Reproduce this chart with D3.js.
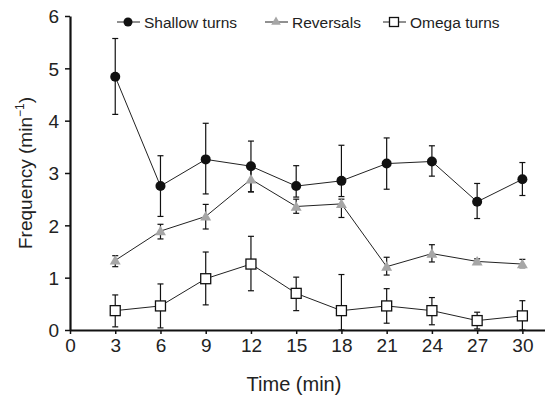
<!DOCTYPE html>
<html>
<head>
<meta charset="utf-8">
<script src="https://cdn.jsdelivr.net/npm/d3@7"></script>
<style>
  body { margin: 0; background: #fff; }
  svg { font-family: "Liberation Sans", Arial, sans-serif; }
</style>
</head>
<body>
<div id="chart"></div>
<script>
// time points (min)
const times = [3, 6, 9, 12, 15, 18, 21, 24, 27, 30];

// shallow turns: mean, upper and lower bar ends
const shallow = [4.84, 2.75, 3.26, 3.13, 2.75, 2.85, 3.18, 3.22, 2.45, 2.88];
const shallowHi = [5.57, 3.33, 3.95, 3.61, 3.14, 3.53, 3.67, 3.52, 2.80, 3.20];
const shallowLo = [4.12, 2.17, 2.60, 2.64, 2.54, 2.55, 2.69, 2.94, 2.13, 2.57];

// reversals
const reversals = [1.33, 1.89, 2.17, 2.88, 2.36, 2.41, 1.21, 1.46, 1.31, 1.26];
const reversalsHi = [1.42, 2.02, 2.40, 3.10, 2.50, 2.50, 1.39, 1.63, 1.36, 1.35];
const reversalsLo = [1.21, 1.74, 1.93, 2.64, 2.23, 2.15, 1.05, 1.30, 1.26, 1.19];

// omega turns
const omega = [0.37, 0.46, 0.98, 1.26, 0.70, 0.37, 0.46, 0.37, 0.18, 0.27];
const omegaHi = [0.67, 0.88, 1.49, 1.79, 1.01, 1.06, 0.79, 0.62, 0.34, 0.56];
const omegaLo = [0.06, 0.04, 0.48, 0.75, 0.37, 0.00, 0.13, 0.10, 0.02, 0.00];

const xTicks = [0, 3, 6, 9, 12, 15, 18, 21, 24, 27, 30];
const yTicks = [0, 1, 2, 3, 4, 5, 6];

const width = 545, height = 396;
const margin = {top: 16, right: 0, bottom: 66, left: 70};

const svg = d3.select("#chart").append("svg")
    .attr("width", width)
    .attr("height", height);

const x = d3.scaleLinear()
    .domain([0, 31.5])
    .range([margin.left, width - margin.right]);

const y = d3.scaleLinear()
    .domain([0, 6])
    .range([height - margin.bottom, margin.top]);

const series = [
    {name: "Shallow turns", mean: shallow, hi: shallowHi, lo: shallowLo, shape: "circle"},
    {name: "Reversals", mean: reversals, hi: reversalsHi, lo: reversalsLo, shape: "triangle"},
    {name: "Omega turns", mean: omega, hi: omegaHi, lo: omegaLo, shape: "square"}
];

function drawMarker(g, shape, cx, cy) {
    if (shape === "circle") {
        g.append("circle").attr("cx", cx).attr("cy", cy).attr("r", 5)
            .attr("fill", "#111");
    } else if (shape === "triangle") {
        g.append("path")
            .attr("d", d3.symbol().type(d3.symbolTriangle).size(52)())
            .attr("transform", `translate(${cx},${cy + 1})`)
            .attr("fill", "#a6a6a6");
    } else {
        g.append("rect").attr("x", cx - 5).attr("y", cy - 5)
            .attr("width", 10).attr("height", 10)
            .attr("fill", "#fff").attr("stroke", "#111").attr("stroke-width", 1.3);
    }
}

// lines, error bars, markers
series.forEach(s => {
    const pts = times.map((t, i) => ({t: t, m: s.mean[i], hi: s.hi[i], lo: s.lo[i]}));
    const g = svg.append("g");

    g.append("path")
        .datum(pts)
        .attr("fill", "none")
        .attr("stroke", "#222")
        .attr("stroke-width", 1)
        .attr("d", d3.line().x(d => x(d.t)).y(d => y(d.m)));

    pts.forEach(d => {
        g.append("line")
            .attr("x1", x(d.t)).attr("x2", x(d.t))
            .attr("y1", y(d.hi)).attr("y2", y(d.lo))
            .attr("stroke", "#111").attr("stroke-width", 1.2);
        [d.hi, d.lo].forEach(v => {
            g.append("line")
                .attr("x1", x(d.t) - 3).attr("x2", x(d.t) + 3)
                .attr("y1", y(v)).attr("y2", y(v))
                .attr("stroke", "#111").attr("stroke-width", 1.2);
        });
    });

    pts.forEach(d => drawMarker(g, s.shape, x(d.t), y(d.m)));
});

// axes
const xAxis = svg.append("g")
    .attr("transform", `translate(0,${y(0)})`)
    .call(d3.axisBottom(x).tickValues(xTicks).tickFormat(d3.format("d"))
        .tickSize(4).tickSizeOuter(0).tickPadding(5));

const yAxis = svg.append("g")
    .attr("transform", `translate(${x(0)},0)`)
    .call(d3.axisLeft(y).tickValues(yTicks).tickFormat(d3.format("d"))
        .tickSize(5).tickSizeOuter(0).tickPadding(6));

[xAxis, yAxis].forEach(a => {
    a.select(".domain").attr("stroke", "#111").attr("stroke-width", 2.2);
    a.selectAll(".tick line").attr("stroke", "#111").attr("stroke-width", 1.5);
    a.selectAll(".tick text").attr("font-size", 19).attr("fill", "#222")
        .attr("font-family", "Liberation Sans, Arial, sans-serif");
});
yAxis.selectAll(".tick text").attr("dy", "0.36em");

// axis titles
svg.append("text")
    .attr("x", 294)
    .attr("y", 391)
    .attr("text-anchor", "middle")
    .attr("font-size", 20)
    .attr("fill", "#222")
    .text("Time (min)");

const yTitle = svg.append("text")
    .attr("transform", `translate(32,${y(3)}) rotate(-90)`)
    .attr("text-anchor", "middle")
    .attr("font-size", 19)
    .attr("fill", "#222");
yTitle.append("tspan").text("Frequency (min");
yTitle.append("tspan").attr("dy", -8).attr("font-size", 12).text("\u22121");
yTitle.append("tspan").attr("dy", 8).text(")");

// legend
const legendX = [117, 265, 383];
series.forEach((s, i) => {
    const lg = svg.append("g");
    const lx = legendX[i], ly = 22;
    lg.append("line")
        .attr("x1", lx).attr("x2", lx + 23)
        .attr("y1", ly).attr("y2", ly)
        .attr("stroke", "#222").attr("stroke-width", 1);
    if (s.shape === "circle") {
        lg.append("circle").attr("cx", lx + 11).attr("cy", ly).attr("r", 4.5).attr("fill", "#111");
    } else if (s.shape === "triangle") {
        lg.append("path")
            .attr("d", d3.symbol().type(d3.symbolTriangle).size(40)())
            .attr("transform", `translate(${lx + 11},${ly})`)
            .attr("fill", "#a6a6a6");
    } else {
        lg.append("rect").attr("x", lx + 6.5).attr("y", ly - 4.5)
            .attr("width", 9).attr("height", 9)
            .attr("fill", "#fff").attr("stroke", "#111").attr("stroke-width", 1.3);
    }
    lg.append("text")
        .attr("x", lx + 27)
        .attr("y", ly + 5.5)
        .attr("font-size", 15.5)
        .attr("fill", "#222")
        .text(s.name);
});
</script>
</body>
</html>
